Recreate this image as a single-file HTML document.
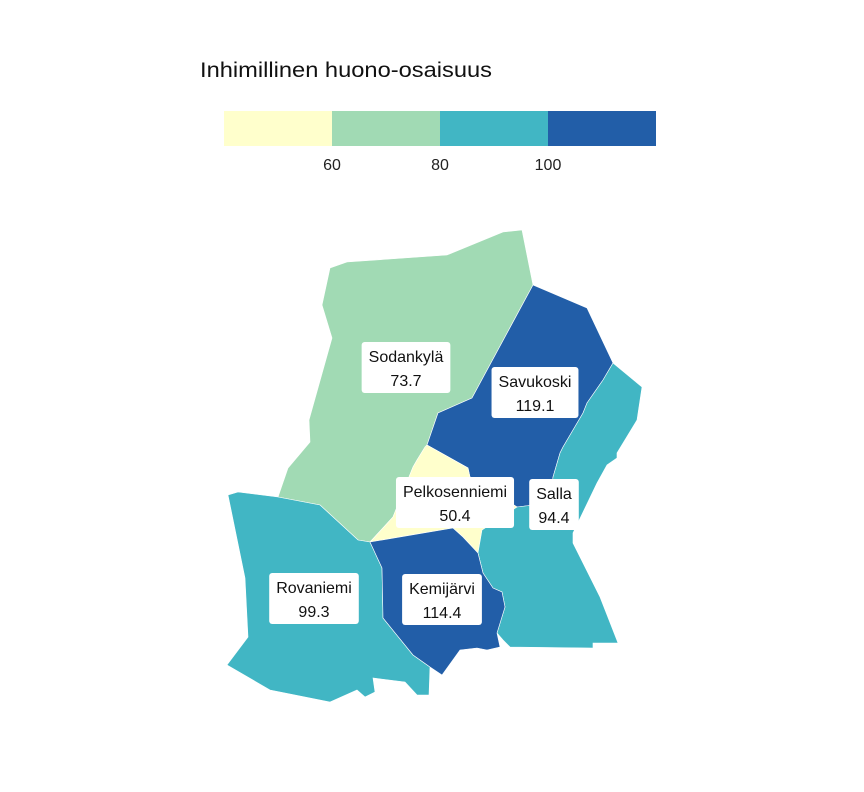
<!DOCTYPE html>
<html><head><meta charset="utf-8"><style>
html,body{margin:0;padding:0;background:#fff;}
svg{display:block;font-family:"Liberation Sans",sans-serif;}
</style></head><body>
<svg id="chart" width="864" height="792" viewBox="0 0 864 792">
<text x="200" y="77" font-size="21" textLength="292" lengthAdjust="spacingAndGlyphs" fill="#111">Inhimillinen huono-osaisuus</text>
<g id="legend"></g>
<g id="map"></g>
<g id="labels"></g>
</svg>
<script>
const names = ["Sodankylä","Savukoski","Pelkosenniemi","Salla","Rovaniemi","Kemijärvi"];
const values = [73.7,119.1,50.4,94.4,99.3,114.4];
const breaks = [60,80,100];
const colors = ["#ffffcc","#a1dab4","#41b6c4","#225ea8"];
const tickLabels = ["60","80","100"];

const shapes = {
"Sodankylä":"330,268 347,262 447,255 503,232 522,230 533,285 472,398 438,413 427,445 425,447 417,460 413,467 393,517 370,542 358,540 320,505 278,497 288,468 310,442 309,420 332,338 322,305",
"Savukoski":"533,285 587,308 613,363 603,380 587,403 583,413 563,447 560,453 553,477 550,503 517,507 470,477 468,468 427,445 438,413 472,398",
"Pelkosenniemi":"427,445 468,468 470,477 517,507 482,530 478,553 463,537 453,528 370,542 393,517 413,467 417,460 425,447",
"Salla":"613,363 642,387 637,420 617,453 617,458 607,465 597,483 573,533 573,543 600,597 618,643 593,643 593,648 510,647 503,640 497,633 500,623 505,607 502,592 493,588 483,573 478,553 482,530 517,507 550,503 553,477 560,453 563,447 583,413 587,403 603,380",
"Rovaniemi":"228,495 238,492 278,497 320,505 358,540 370,542 382,568 383,618 413,655 430,667 429,695 417,695 405,682 373,678 375,692 365,697 357,690 330,702 270,690 227,665 248,637 245,578",
"Kemijärvi":"370,542 453,528 463,537 478,553 483,573 493,588 502,592 505,607 497,633 500,647 487,650 477,648 460,650 442,675 430,667 413,655 383,618 382,568"
};
const labelPos = {"Sodankylä":[406,367],"Savukoski":[535,392],"Pelkosenniemi":[455,502],"Salla":[554,504],"Rovaniemi":[314,598],"Kemijärvi":[442,599]};

const NS="http://www.w3.org/2000/svg";
function colorFor(v){let i=0;while(i<breaks.length&&v>=breaks[i])i++;return colors[i];}
const bx0=224,bx1=656,vmin=40,vmax=120;
function xs(v){return bx0+(v-vmin)/(vmax-vmin)*(bx1-bx0);}
const lg=document.getElementById('legend');
const edges=[vmin].concat(breaks,[vmax]);
for(let i=0;i<colors.length;i++){
  const r=document.createElementNS(NS,'rect');
  r.setAttribute('x',xs(edges[i]));r.setAttribute('y',111);
  r.setAttribute('width',xs(edges[i+1])-xs(edges[i]));r.setAttribute('height',35);
  r.setAttribute('fill',colors[i]);
  
  
  lg.appendChild(r);
}
breaks.forEach((b,i)=>{
  const t=document.createElementNS(NS,'text');
  t.setAttribute('x',xs(b));t.setAttribute('y',170);t.setAttribute('font-size','16');
  t.setAttribute('text-anchor','middle');t.setAttribute('fill','#222');
  t.textContent=tickLabels[i];
  
  
  lg.appendChild(t);
});
const mg=document.getElementById('map'),lb=document.getElementById('labels');
names.forEach((n,i)=>{
  const p=document.createElementNS(NS,'polygon');
  p.setAttribute('points',shapes[n]);
  p.setAttribute('fill',colorFor(values[i]));
  p.setAttribute('stroke','#fff');p.setAttribute('stroke-width','0.6');
  
  
  mg.appendChild(p);
});
names.forEach((n,i)=>{
  const [cx,cy]=labelPos[n];
  const g=document.createElementNS(NS,'g');
  
  
  const t1=document.createElementNS(NS,'text'),t2=document.createElementNS(NS,'text');
  [t1,t2].forEach((t,k)=>{t.setAttribute('x',cx);t.setAttribute('y',cy-5+k*24);t.setAttribute('font-size','16');t.setAttribute('text-anchor','middle');t.setAttribute('fill','#111');});
  t1.textContent=n;t2.textContent=values[i].toFixed(1);
  const r=document.createElementNS(NS,'rect');
  g.appendChild(r);g.appendChild(t1);g.appendChild(t2);lb.appendChild(g);
  const w=Math.max(t1.getComputedTextLength(),t2.getComputedTextLength())+14;
  r.setAttribute('x',cx-w/2);r.setAttribute('y',cy-25);r.setAttribute('width',w);r.setAttribute('height',51);
  r.setAttribute('rx',3);r.setAttribute('fill','#fff');
});
</script>
</body></html>
